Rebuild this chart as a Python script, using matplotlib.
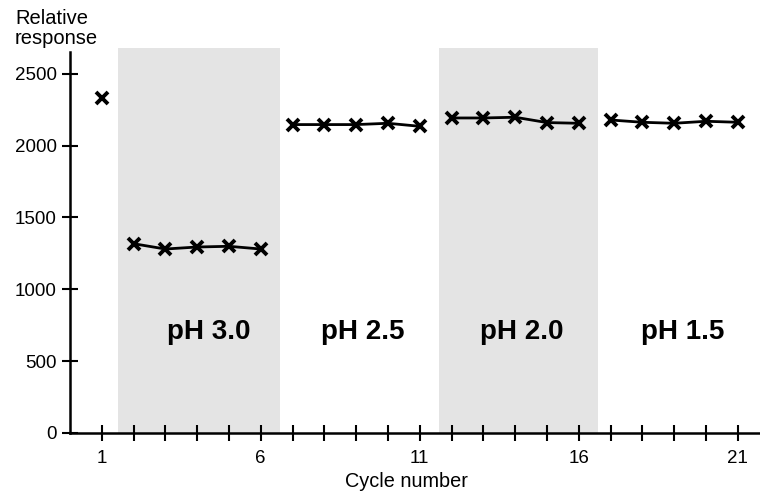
import matplotlib
matplotlib.use("Agg")
import matplotlib.pyplot as plt

plt.rcParams['font.family'] = ['Liberation Sans', 'DejaVu Sans']

cycle_groups = [[1], [2, 3, 4, 5, 6], [7, 8, 9, 10, 11], [12, 13, 14, 15, 16], [17, 18, 19, 20, 21]]
response_groups = [
    [2328],
    [1317, 1280, 1294, 1299, 1280],
    [2146, 2146, 2146, 2155, 2134],
    [2192, 2192, 2197, 2160, 2155],
    [2178, 2162, 2155, 2169, 2162],
]
shaded_spans = [(1.5, 6.6), (11.6, 16.6)]
ph_labels = ["pH 3.0", "pH 2.5", "pH 2.0", "pH 1.5"]
ph_label_x = [4.35, 9.2, 14.2, 19.28]
xtick_labels = [1, 6, 11, 16, 21]
yticks = [0, 500, 1000, 1500, 2000, 2500]

fig = plt.figure(figsize=(7.6, 4.92), dpi=100)
ax = fig.add_axes([0.092, 0.12, 0.908, 0.774])

ax.set_xlim(0, 21.7)
ax.set_ylim(0, 2650)

for a, b in shaded_spans:
    ax.fill_between([a, b], 0, 2680, color='#e4e4e4', lw=0, clip_on=False, zorder=0)

for xs, ys in zip(cycle_groups, response_groups):
    ax.plot(xs, ys, color='black', lw=2, marker='x', markersize=9, mew=2.8, zorder=3)

for lab, x in zip(ph_labels, ph_label_x):
    ax.text(x, 700, lab, ha='center', va='center', fontsize=20, fontweight='bold')

ax.spines['top'].set_visible(False)
ax.spines['right'].set_visible(False)
ax.spines['left'].set_linewidth(1.8)
ax.spines['bottom'].set_linewidth(1.8)

ax.set_xticks(range(1, 22))
ax.set_xticklabels([str(i) if i in xtick_labels else '' for i in range(1, 22)])
ax.set_yticks(yticks)
ax.tick_params(axis='both', direction='inout', length=11, width=1.5, labelsize=13.5, pad=4)
ax.tick_params(axis='x', pad=7)

ax.set_xlabel('Cycle number', fontsize=14.3)
ax.xaxis.set_label_coords((406 - 70) / 690, -(482 - 433) / (0.774 * 492), transform=ax.transAxes)
ax.xaxis.label.set_va('center')
fig.text(15 / 760, 1 - 9 / 492, 'Relative\nresponse', ha='left', va='top', fontsize=14.5, linespacing=1.1)

fig.savefig('out.png', dpi=100)
